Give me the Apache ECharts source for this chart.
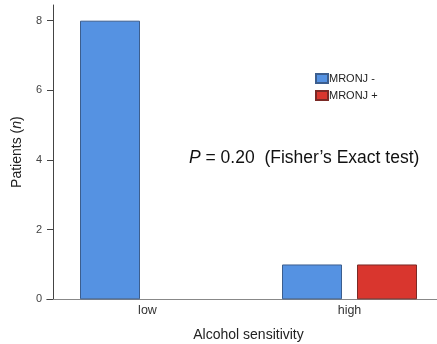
<!DOCTYPE html>
<html>
<head>
<meta charset="utf-8">
<script src="https://cdn.jsdelivr.net/npm/echarts@6/dist/echarts.min.js"></script>
<style>html,body{margin:0;padding:0;background:#fff;}#c{width:437px;height:344px;}</style>
</head>
<body>
<div id="c"></div>
<script>
var categories = ['low', 'high'];
var seriesNames = ['MRONJ -', 'MRONJ +'];
var mronjNeg = [8, 1];
var mronjPos = [0, 1];
var yTicks = [0, 2, 4, 6, 8];

var chart = echarts.init(document.getElementById('c'), null, {renderer: 'canvas'});
var font = '"Liberation Sans", Arial, sans-serif';
function toData(arr) {
  return arr.map(function (v) { return v === 0 ? {value: v, itemStyle: {borderWidth: 0}} : v; });
}
chart.setOption({
  animation: false,
  backgroundColor: '#fff',
  grid: {left: 46.5, width: 404, top: 5, bottom: 44.7, containLabel: false, outerBoundsMode: 'none'},
  legend: {
    orient: 'vertical', left: 315, top: 73, padding: 0, itemWidth: 12, itemHeight: 9, itemGap: 6,
    icon: 'rect',
    textStyle: {fontFamily: font, fontSize: 11, color: '#222', padding: [0, 0, 0, -4]},
    data: seriesNames
  },
  xAxis: {
    type: 'category', data: categories,
    axisLine: {show: true, lineStyle: {color: '#888', width: 1}},
    axisTick: {show: false},
    axisLabel: {fontFamily: font, fontSize: 12.5, color: '#333', margin: 5},
    name: 'Alcohol sensitivity', nameLocation: 'middle', nameGap: 29,
    nameTextStyle: {fontFamily: font, fontSize: 14, color: '#222'}
  },
  yAxis: {
    type: 'value', min: 0, max: 8.45, offset: -6.5,
    axisLine: {show: true, lineStyle: {color: '#444', width: 1}},
    axisTick: {show: true, inside: false, length: 6, customValues: yTicks, lineStyle: {color: '#444'}},
    axisLabel: {fontFamily: font, fontSize: 11, color: '#444', margin: 11, customValues: yTicks},
    splitLine: {show: false},
    name: '{a|Patients (}{b|n}{a|)}', nameLocation: 'middle', nameGap: 29, nameRotate: 90,
    nameTextStyle: {rich: {a: {fontFamily: font, fontSize: 14, color: '#222'}, b: {fontFamily: font, fontSize: 14, color: '#222', fontStyle: 'italic'}}}
  },
  graphic: [{
    type: 'text', left: 189, top: 149,
    style: {
      text: '{i|P} = 0.20  (Fisher\u2019s Exact test)',
      fontFamily: font, fontSize: 17.5, fill: '#111',
      rich: {i: {fontFamily: font, fontSize: 17.5, fontStyle: 'italic', fill: '#111'}}
    }
  }],
  series: [
    {name: seriesNames[0], type: 'bar', data: toData(mronjNeg), barWidth: 60, barGap: '25%',
     itemStyle: {color: '#5592E2', borderColor: '#3C5E8E', borderWidth: 1}},
    {name: seriesNames[1], type: 'bar', data: toData(mronjPos), barWidth: 60, barGap: '25%',
     itemStyle: {color: '#D9362E', borderColor: '#7A2A26', borderWidth: 1}}
  ]
});
</script>
</body>
</html>
